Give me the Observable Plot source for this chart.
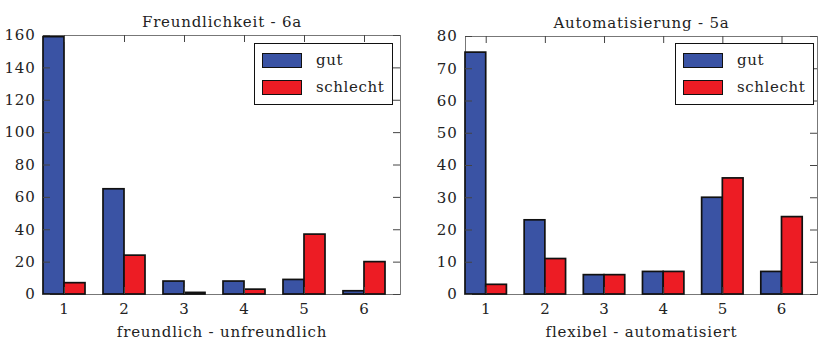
<!DOCTYPE html>
<html>
<head>
<meta charset="utf-8">
<script src="https://cdn.jsdelivr.net/npm/d3@7"></script>
<script src="https://cdn.jsdelivr.net/npm/@observablehq/plot@0.6"></script>
<style>
  body { margin: 0; background: #fff; }
  #root { position: relative; width: 819px; height: 342px; overflow: hidden; font-family: "DejaVu Serif", serif; }
  .panel { position: absolute; top: 0; }
  .panel svg { letter-spacing: 0.8px; }
  .legend { position: absolute; background: #fff; border: 1.5px solid #111; box-sizing: border-box; font-size: 15px; letter-spacing: 0.6px; color: #222; }
  .legend .row { position: absolute; left: 7px; display: flex; align-items: center; }
  .legend .sw { width: 40px; height: 15px; border: 1.5px solid #111; box-sizing: border-box; }
  .legend .lbl { margin-left: 14px; }
</style>
</head>
<body>
<div id="root"></div>
<script>
const categories = [1, 2, 3, 4, 5, 6];
const seriesNames = ["gut", "schlecht"];

const gut6a = [159, 65, 8, 8, 9, 2];
const schlecht6a = [7, 24, 1, 3, 37, 20];
const yTicks6a = [0, 20, 40, 60, 80, 100, 120, 140, 160];

const gut5a = [75, 23, 6, 7, 30, 7];
const schlecht5a = [3, 11, 6, 7, 36, 24];
const yTicks5a = [0, 10, 20, 30, 40, 50, 60, 70, 80];

const titles = ["Freundlichkeit - 6a", "Automatisierung - 5a"];
const xLabels = ["freundlich - unfreundlich", "flexibel - automatisiert"];

const BLUE = "#3a53a4";
const RED = "#ed1c24";
const HALF = 0.35;

function panel({title, xlabel, gut, schlecht, yTicks, width, height, mL, mR, mT, mB}) {
  const rows = categories.map((c, i) => ({cat: c, gut: gut[i], schlecht: schlecht[i]}));
  const H = height - mT - mB;
  const W = width - mL - mR;
  const tl = 7;
  return Plot.plot({
    width, height,
    marginLeft: mL, marginRight: mR, marginTop: mT, marginBottom: mB,
    style: {fontFamily: "DejaVu Serif, serif", fontSize: "15px", color: "#222", background: "transparent"},
    x: {domain: [1 - HALF, 6.6]},
    y: {domain: [yTicks[0], yTicks[yTicks.length - 1]]},
    marks: [
      Plot.frame({stroke: "#777", strokeWidth: 1}),
      Plot.rectY(rows, {x1: d => d.cat - HALF, x2: d => d.cat, y: "gut", fill: BLUE, stroke: "#111", strokeWidth: 1.7}),
      Plot.rectY(rows, {x1: d => d.cat, x2: d => d.cat + HALF, y: "schlecht", fill: RED, stroke: "#111", strokeWidth: 1.7}),
      Plot.tickX(categories, {x: d => d, insetTop: H - tl, stroke: "#444"}),
      Plot.tickX(categories, {x: d => d, insetBottom: H - tl, stroke: "#444"}),
      Plot.tickY(yTicks, {y: d => d, insetRight: W - tl, stroke: "#444"}),
      Plot.tickY(yTicks, {y: d => d, insetLeft: W - tl, stroke: "#444"}),
      Plot.axisX({ticks: categories, tickSize: 0, tickPadding: 9, tickFormat: d => String(d)}),
      Plot.axisY({ticks: yTicks, tickSize: 0, tickPadding: 8, tickFormat: d => String(d), label: null}),
      Plot.text([title], {frameAnchor: "top", dy: -19, fill: "#222"}),
      Plot.text([xlabel], {frameAnchor: "bottom", dy: 42, fill: "#222"})
    ]
  });
}

function legend(left, top) {
  const lg = document.createElement("div");
  lg.className = "legend";
  Object.assign(lg.style, {left: left + "px", top: top + "px", width: "139px", height: "62px"});
  [BLUE, RED].forEach((c, i) => {
    const r = document.createElement("div");
    r.className = "row";
    r.style.top = (7 + i * 27) + "px";
    const sw = document.createElement("div");
    sw.className = "sw";
    sw.style.background = c;
    const t = document.createElement("span");
    t.className = "lbl";
    t.textContent = seriesNames[i];
    r.append(sw, t);
    lg.append(r);
  });
  return lg;
}

const root = document.getElementById("root");

const p1 = panel({title: titles[0], xlabel: xLabels[0], gut: gut6a, schlecht: schlecht6a, yTicks: yTicks6a,
  width: 410, height: 342, mL: 43, mR: 10, mT: 35, mB: 48});
const d1 = document.createElement("div"); d1.className = "panel"; d1.style.left = "0px"; d1.append(p1);
root.append(d1);

const p2 = panel({title: titles[1], xlabel: xLabels[1], gut: gut5a, schlecht: schlecht5a, yTicks: yTicks5a,
  width: 409, height: 342, mL: 55, mR: 2, mT: 36, mB: 48});
const d2 = document.createElement("div"); d2.className = "panel"; d2.style.left = "410px"; d2.append(p2);
root.append(d2);

root.append(legend(254, 43));
root.append(legend(675, 43));
</script>
</body>
</html>
